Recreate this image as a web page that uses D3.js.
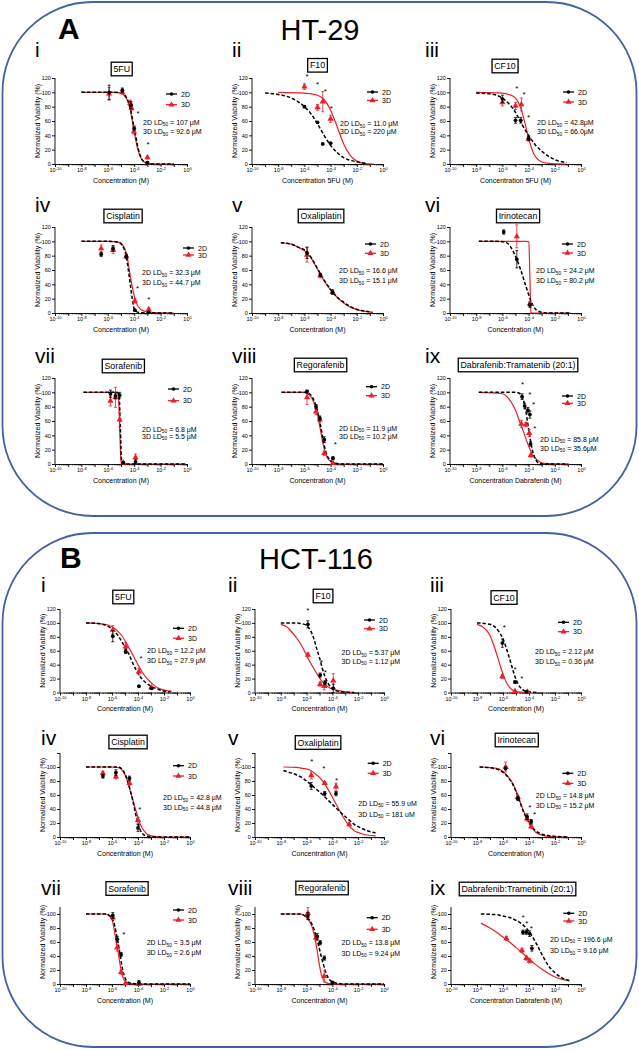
<!DOCTYPE html>
<html><head><meta charset="utf-8">
<script src="https://cdn.jsdelivr.net/npm/d3@7"></script>
<style>
body{margin:0;background:#fff}
svg{display:block}
text{font-family:"Liberation Sans",Arial,sans-serif}
</style>
</head><body>
<svg id="c" width="639" height="1050"></svg>
<script>
// ---------------- DATA ----------------
const sectionLetters = ["A","B"];
const cellLines = ["HT-29","HCT-116"];
const panelNumerals = ["i","ii","iii","iv","v","vi","vii","viii","ix"];
const drugsA = ["5FU","F10","CF10","Cisplatin","Oxaliplatin","Irinotecan","Sorafenib","Regorafenib","Dabrafenib:Tramatenib (20:1)"];
const drugsB = ["5FU","F10","CF10","Cisplatin","Oxaliplatin","Irinotecan","Sorafenib","Regorafenib","Dabrafenib:Trametinib (20:1)"];
const xTitlesA = ["Concentration (M)","Concentration 5FU (M)","Concentration 5FU (M)","Concentration (M)","Concentration (M)","Concentration (M)","Concentration (M)","Concentration (M)","Concentration Dabrafenib (M)"];
const xTitlesB = ["Concentration (M)","Concentration (M)","Concentration (M)","Concentration (M)","Concentration (M)","Concentration (M)","Concentration (M)","Concentration (M)","Concentration Dabrafenib (M)"];
const ld2DA = ["107 μM","11.0 μM","42.8μM","32.3 μM","16.6 μM","24.2 μM","6.8 μM","11.9 μM","85.8 μM"];
const ld3DA = ["92.6 μM","220 μM","66.0μM","44.7 μM","15.1 μM","80.2 μM","5.5 μM","10.2 μM","35.6μM"];
const ld2DB = ["12.2 μM","5.37 μM","2.12 μM","42.8 μM","55.9 uM","14.8 μM","3.5 μM","13.8 μM","196.6 μM"];
const ld3DB = ["27.9 μM","1.12 μM","0.36 μM","44.8 μM","181 uM","15.2 μM","2.6 μM","9.24 μM","9.16 μM"];
const seriesNames = ["2D","3D"];
const xTickExp = [-10,-9,-8,-7,-6,-5,-4,-3,-2,-1,0];
const yTickVals = [0,20,40,60,80,100,120];

// fitted curves: [log10 concentration, viability %]
const curve2DA = [
 [[-8,100],[-5.5,100],[-5,99],[-4.6,93],[-4.3,78],[-4.0,50],[-3.7,22],[-3.4,6],[-3,1],[-2.5,0],[-1,0]],
 [[-9,99],[-8,97],[-7,92],[-6,80],[-5.5,70],[-5,56],[-4.5,40],[-4,26],[-3.5,16],[-3,9],[-2,3],[-1.25,1]],
 [[-8,99],[-7,98],[-6,92],[-5.5,84],[-5,72],[-4.5,55],[-4,40],[-3.5,27],[-3,18],[-2.5,11],[-2,6],[-1.1,2]],
 [[-8,100],[-6,100],[-5.2,99],[-4.9,94],[-4.6,79],[-4.45,61],[-4.3,41],[-4.15,20],[-4.05,9],[-3.9,3],[-3.6,0.5],[-1,0]],
 [[-7.8,98],[-7,96],[-6.5,92],[-6,88],[-5.5,78],[-5,62],[-4.5,46],[-4,33],[-3.5,22],[-3,15],[-2.5,9],[-2,5],[-1.5,3],[-0.8,1]],
 [[-7.8,100],[-6.5,100],[-5.8,99],[-5.4,93],[-5.0,79],[-4.6,60],[-4.2,37],[-3.8,16],[-3.45,5],[-3,1],[-2.5,0],[-0.8,0]],
 [[-7.85,100],[-5.3,100],[-5.15,97],[-5.05,50],[-4.95,3],[-4.85,0],[-0.1,0]],
 [[-7.75,100],[-6,100],[-5.55,97],[-5.25,88],[-4.95,70],[-4.73,50],[-4.53,30],[-4.33,15],[-4.0,5],[-3.6,1],[-3,0],[0,0]],
 [[-7.8,100],[-5,100],[-4.75,99],[-4.5,94],[-4.25,78],[-4.05,55],[-3.85,32],[-3.65,15],[-3.45,6],[-3.2,1],[-2.5,0],[-1,0]]
];
const curve3DA = [
 [[-8,100],[-5.5,100],[-5,99],[-4.6,92],[-4.3,76],[-4.05,50],[-3.75,22],[-3.45,7],[-3.1,1.5],[-2.5,0],[-1,0]],
 [[-8,100],[-6,99],[-5,96],[-4.5,90],[-4,75],[-3.5,52],[-3,28],[-2.5,12],[-2,4],[-1.5,1],[-0.7,0]],
 [[-8,100],[-6,99],[-5.5,97],[-5,92],[-4.6,78],[-4.25,55],[-4,36],[-3.6,14],[-3.2,5],[-2.5,1],[-1.1,0]],
 [[-8,100],[-6,100],[-5.2,99],[-4.8,93],[-4.55,80],[-4.3,52],[-4.0,24],[-3.7,9],[-3.3,3],[-2.5,0.5],[-1,0]],
 [[-7.8,98],[-7,96],[-6.5,92],[-6,87],[-5.5,77],[-5,61],[-4.5,45],[-4,32],[-3.5,22],[-3,14],[-2.5,8],[-2,5],[-1.5,2.5],[-0.8,1]],
 [[-7.8,100],[-4.2,100],[-3.98,99],[-3.9,50],[-3.82,1],[-3.7,0],[-0.8,0]],
 [[-7.85,100],[-5.35,100],[-5.2,96],[-5.1,50],[-5.0,4],[-4.9,0],[-0.1,0]],
 [[-7.75,100],[-6,100],[-5.6,96],[-5.3,87],[-5.0,70],[-4.8,50],[-4.6,30],[-4.4,15],[-4.1,5],[-3.7,1],[-3,0],[0,0]],
 [[-7.8,100],[-6.5,99],[-6,98],[-5.5,91],[-5,75],[-4.7,60],[-4.45,48],[-4.1,30],[-3.7,13],[-3.3,5],[-2.8,1],[-0.9,0]]
];
const curve2DB = [
 [[-8,100],[-7,99],[-6.3,95],[-5.8,88],[-5.3,75],[-5,65],[-4.7,55],[-4.4,42],[-4.1,31],[-3.8,22],[-3.4,14],[-3,9],[-2.5,5],[-2,2],[-1.5,1]],
 [[-8,100],[-7,100],[-6.4,99],[-6,96],[-5.7,89],[-5.45,78],[-5.2,62],[-5,50],[-4.8,36],[-4.6,24],[-4.3,12],[-4,5],[-3.6,2],[-3,0.5],[-2.3,0]],
 [[-8,100],[-7,98],[-6.6,94],[-6.3,87],[-6,77],[-5.75,64],[-5.5,49],[-5.25,33],[-5,19],[-4.7,8],[-4.4,3],[-4,1],[-3.3,0]],
 [[-8,100],[-6,100],[-5.5,100],[-5.2,96],[-5,90],[-4.8,80],[-4.6,67],[-4.4,52],[-4.2,34],[-4,20],[-3.8,9],[-3.6,4],[-3.3,1],[-2.5,0],[0,0]],
 [[-7.8,95],[-7.3,92],[-6.8,89],[-6.3,84],[-5.8,77],[-5.3,69],[-4.8,61],[-4.3,52],[-3.8,43],[-3.3,34],[-2.8,26],[-2.3,18],[-1.8,13],[-1.3,9],[-0.65,6]],
 [[-7.8,100],[-7,99],[-6.5,97],[-6.2,95],[-5.9,91],[-5.6,85],[-5.3,77],[-5,65],[-4.7,50],[-4.4,35],[-4.1,24],[-3.8,15],[-3.5,9],[-3,4],[-2.5,2],[-1,0]],
 [[-8,100],[-7,100],[-6.5,100],[-6.2,98],[-6,94],[-5.8,84],[-5.6,65],[-5.45,50],[-5.3,33],[-5.15,18],[-5,9],[-4.8,3],[-4.5,1],[-4,0],[0,0]],
 [[-8,100],[-7,100],[-6.5,100],[-6.2,98],[-5.9,94],[-5.6,86],[-5.35,74],[-5.1,57],[-4.9,42],[-4.7,28],[-4.5,16],[-4.3,8],[-4,3],[-3.6,1],[-3,0],[0,0]],
 [[-7.7,100],[-7,99.5],[-6.5,99],[-6,97],[-5.5,95],[-5,91],[-4.5,85],[-4,75],[-3.5,60],[-3,42],[-2.5,26],[-2,16],[-1.5,9],[-0.9,5]]
];
const curve3DB = [
 [[-8,100],[-7,99],[-6.3,97],[-5.8,92],[-5.3,83],[-4.8,68],[-4.4,54],[-4,40],[-3.6,27],[-3.2,18],[-2.8,11],[-2.4,6],[-1.9,3],[-1.4,2]],
 [[-8,98],[-7.5,94],[-7.2,88],[-6.8,79],[-6.4,68],[-6.1,57],[-5.8,46],[-5.4,33],[-5.1,24],[-4.8,16],[-4.4,9],[-4,5],[-3.6,3],[-3,1],[-2.3,0]],
 [[-8,98],[-7.6,95],[-7.3,90],[-7,82],[-6.75,70],[-6.5,56],[-6.3,44],[-6.1,32],[-5.9,21],[-5.6,10],[-5.3,4],[-5,1.5],[-4.6,0.5],[-4,0]],
 [[-8,100],[-6,100],[-5.5,99],[-5.2,95],[-5,89],[-4.8,79],[-4.6,66],[-4.4,53],[-4.2,40],[-4,28],[-3.8,17],[-3.5,8],[-3.2,3],[-2.8,1],[-2,0],[0,0]],
 [[-7.8,100],[-6.8,99.5],[-6.3,98],[-5.8,96],[-5.3,90],[-4.8,81],[-4.3,67],[-3.8,50],[-3.3,33],[-2.8,18],[-2.3,9],[-1.8,5],[-1.2,2.5],[-0.65,1.5]],
 [[-7.8,100],[-7,99],[-6.5,98],[-6.2,96],[-5.9,92],[-5.6,86],[-5.3,78],[-5,66],[-4.7,51],[-4.4,36],[-4.1,24],[-3.8,14],[-3.5,7],[-3,2.5],[-2.5,1],[-1,0]],
 [[-8,100],[-7,100],[-6.5,100],[-6.2,97],[-6,92],[-5.85,80],[-5.7,63],[-5.55,48],[-5.4,30],[-5.25,16],[-5.1,7],[-4.9,2],[-4.6,0.5],[-4,0],[0,0]],
 [[-8,100],[-7,100],[-6.5,100],[-6.2,98],[-5.9,93],[-5.6,83],[-5.4,70],[-5.2,50],[-5.05,32],[-4.9,17],[-4.75,8],[-4.5,2],[-4.2,0.5],[-3.5,0],[0,0]],
 [[-7.7,87],[-7,80],[-6.5,74],[-6,67],[-5.5,60],[-5,52],[-4.5,44],[-4,36],[-3.5,28],[-3,21],[-2.5,15],[-2,10],[-1.5,7],[-0.9,4.5]]
];
// measured points: [log10 concentration, mean %, error %]
const pts2DA = [
 [[-5.9,100,10],[-4.9,103,3],[-4.25,82,5],[-4,50,3],[-3,2,1]],
 [[-6,80,1],[-5,58,1],[-4.6,28,1],[-4,29,1]],
 [[-6,91,5],[-5,61,4],[-4.6,61,4],[-4,36,3]],
 [[-6.5,82,3],[-5.6,90,4],[-4.6,79,3],[-3.95,4,1],[-2.9,1,1]],
 [[-5.8,84,8],[-4.78,53,2],[-3.85,29,3]],
 [[-5.9,113,3],[-4.9,75,12],[-3.9,11,3]],
 [[-5.8,98,5],[-5.42,95,4],[-5.1,96,4],[-4.83,2,1],[-3.9,3,3]],
 [[-5.8,101,2],[-5.11,80,3],[-4.83,64,3],[-4.48,34,4],[-3.82,8,2]],
 [[-4.5,94,4],[-4.3,81,4],[-4.05,75,4],[-3.9,69,5],[-3.85,28,3]]
];
const pts3DA = [
 [[-5.9,98,9],[-4.9,100,2],[-4.3,85,4],[-4.2,78,3],[-4.02,45,3],[-3,9,2]],
 [[-6,108,4],[-5,79,4],[-4.6,87,14],[-4,63,5]],
 [[-6,86,5],[-5,81,5],[-4.55,83,9],[-4,35,3]],
 [[-6.5,90,5],[-5.6,88,5],[-4.6,79,3],[-3.95,17,3],[-2.9,5,2]],
 [[-5.8,81,10],[-4.78,52,3],[-3.85,29,2]],
 [[-4.9,107,16],[-3.9,13,3]],
 [[-5.8,88,7],[-5.42,93,14],[-5.1,62,10],[-4.83,2,1],[-3.9,9,5]],
 [[-5.8,93,10],[-5.11,73,4],[-4.83,62,4],[-4.48,15,3],[-3.82,1,1]],
 [[-4.55,56,5],[-4.2,55,3],[-3.95,43,5],[-3.83,12,2]]
];
const pts2DB = [
 [[-5.94,81,8],[-4.95,59,3],[-3.93,9,1],[-2.97,6,1]],
 [[-5.9,98,5],[-4.95,25,3],[-4.57,14,3],[-3.93,6,6]],
 [[-6.05,71,6],[-5.08,15,2],[-4.2,1,1]],
 [[-6.7,87,3],[-5.7,92,4],[-4.66,84,3],[-4.0,13,5]],
 [[-5.64,73,5],[-4.6,62,3],[-3.72,62,3]],
 [[-5.8,98,2],[-4.86,55,3],[-4.15,29,4],[-3.83,22,3]],
 [[-5.94,98,4],[-5.59,64,4],[-5.3,42,3],[-3.93,2,3]],
 [[-5.9,97,5],[-5.18,68,4],[-4.95,59,3],[-4.63,37,3],[-4.0,2,2]],
 [[-4.46,74,3],[-4.2,74,3],[-3.95,72,4],[-3.78,51,4]]
];
const pts3DB = [
 [[-5.94,90,6],[-4.95,66,6],[-3.93,30,5],[-2.97,7,1]],
 [[-5.9,54,3],[-4.95,12,3],[-4.63,9,5],[-3.93,17,10]],
 [[-6.05,23,3],[-5.08,2,1],[-4.13,1,1]],
 [[-6.7,91,3],[-5.7,86,3],[-4.66,77,3],[-4.0,24,4]],
 [[-5.64,88,5],[-4.6,77,2],[-3.72,72,5],[-2.7,18,2]],
 [[-5.8,100,7],[-4.86,57,3],[-4.15,26,3],[-3.83,15,3]],
 [[-5.94,95,3],[-5.6,52,5],[-5.3,17,3],[-4.95,1,1],[-3.93,0,2]],
 [[-5.9,101,8],[-5.27,66,3],[-4.63,11,8]],
 [[-5.74,65,3],[-4.54,48,3],[-4.2,37,3],[-3.95,33,3]]
];
// significance asterisks: [log10 concentration, %]
const starsA = [
 [[-3.7,72],[-2.95,28]],
 [[-5.8,123],[-5,112],[-4.4,102],[-3.95,79]],
 [[-4.9,107],[-4.35,99],[-4,66]],
 [[-3.75,35],[-2.9,20]],
 [], [],
 [],
 [[-3.64,28]],
 [[-4.46,112],[-3.9,99],[-3.62,84],[-3.52,51]]
];
const starsB = [
 [[-3.77,51]],
 [[-5.9,119],[-4.86,44],[-4.54,30]],
 [[-5.9,95],[-5.08,34],[-4.56,21]],
 [[-3.87,41]],
 [[-5.6,110],[-4.67,100],[-3.67,82]],
 [[-3.93,44],[-3.58,33]],
 [[-5.1,72]],
 [],
 [[-4.46,96],[-4.16,88],[-3.83,81]]
];

// ---------------- LAYOUT ----------------
const sections = [
 {top:2, cols:[[55,187],[252,383],[450,581]], rows:[[164,78,120,true],[313,227,120,true],[464,378,120,true]],
  numX:[35,232,425], numY:[57,212,363], letterX:58, letterY:39, titleX:320, titleY:40,
  titleDx:[66.7,65.5,55,68,69,68,68.3,68.5,68], titleDy:[-9,-12.7,-12,-11,-11,-11,-12,-13,-13],
  leg:[[111,16,10.7],[115,14,8.4],[113,14,10],[128,21,7],[113,17,9.3],[112,17,9],[113,11,11.7],[114,8.7,9],[112,18,7.3]],
  ld:[[88,46.5,9.7],[88,48,8.3],[87,47,9.3],[87,48,10],[87,46.3,10],[86,46.3,10],[87,53.5,7.3],[87,52.5,8.3],[90,63.5,9.4]]},
 {top:533, cols:[[60,190],[255,384],[451,581]], rows:[[692.5,609,120,true],[837,753,120,false],[984,900,110,false]],
  numX:[41,228,430], numY:[592,745,895], letterX:60, letterY:568, titleX:316, titleY:569,
  titleDx:[63.3,68,53,68,63,65.7,67,67,66.5], titleDy:[-12,-13,-11.5,-11,-10.5,-13,-11.5,-12,-11],
  leg:[[113,19.3,10],[109,11,8.7],[107,13.3,9.4],[113,12.7,10.3],[112.7,10.3,10],[111.3,20.3,10],[113,10,10],[111.7,17.7,11.6],[112.3,13.3,7.7]],
  ld:[[87,44.3,9.7],[86.5,46,8.7],[84,45.3,9.7],[103,47.3,9.4],[103.3,52.7,11],[84.8,45.3,9.4],[86.7,45.3,9.7],[86.5,45.3,10.4],[99,41.7,11.6]]}
];
const RED = "#e8202a", BLUE = "#44629e";

const svg = d3.select("#c");
const sectionData = [
 {drugs:drugsA, xt:xTitlesA, l2:ld2DA, l3:ld3DA, c2:curve2DA, c3:curve3DA, p2:pts2DA, p3:pts3DA, st:starsA},
 {drugs:drugsB, xt:xTitlesB, l2:ld2DB, l3:ld3DB, c2:curve2DB, c3:curve3DB, p2:pts2DB, p3:pts3DB, st:starsB}
];

sections.forEach((L, s) => {
  const D = sectionData[s];
  svg.append("rect").attr("x",2.5).attr("y",L.top).attr("width",634).attr("height",514)
    .attr("rx",90).attr("ry",90).attr("fill","none").attr("stroke",BLUE).attr("stroke-width",1.8);
  svg.append("text").attr("x",L.letterX).attr("y",L.letterY).attr("font-size",30).attr("font-weight","bold").text(sectionLetters[s]);
  svg.append("text").attr("x",L.titleX).attr("y",L.titleY).attr("font-size",29).attr("text-anchor","middle").text(cellLines[s]);

  for (let p = 0; p < 9; p++) {
    const col = p % 3, row = Math.floor(p / 3);
    const [xL, xR] = L.cols[col];
    const [y0, yT, yMax, show120] = L.rows[row];
    const x = d3.scaleLinear().domain([-10, 0]).range([xL, xR]);
    const y = d3.scaleLinear().domain([0, 120]).range([y0, yT]);
    const g = svg.append("g");

    g.append("text").attr("x", L.numX[col]).attr("y", L.numY[row]).attr("font-size", 21).text(panelNumerals[p]);

    const tt = g.append("text").attr("x", xL + L.titleDx[p]).attr("y", yT + L.titleDy[p] + 3.1)
      .attr("font-size", 8.8).attr("text-anchor", "middle").text(D.drugs[p]);
    const bb = tt.node().getBBox();
    g.insert("rect", "text").attr("x", bb.x - 2.2).attr("y", yT + L.titleDy[p] - 6.8)
      .attr("width", bb.width + 4.4).attr("height", 13.6).attr("fill", "#fff").attr("stroke", "#000").attr("stroke-width", 1.3);

    const minor = [];
    for (let d = -10; d < 0; d++) for (let k = 2; k <= 9; k++) minor.push(d + Math.log10(k));
    g.append("g").attr("transform", `translate(0,${y0})`)
      .call(d3.axisBottom(x).tickValues(minor).tickSize(1.5).tickSizeOuter(0).tickFormat(""))
      .call(a => a.select(".domain").remove())
      .call(a => a.selectAll("line").attr("stroke-width", 0.6));
    const xa = g.append("g").attr("transform", `translate(0,${y0})`)
      .call(d3.axisBottom(x).tickValues(xTickExp).tickSize(3).tickSizeOuter(0).tickPadding(1.5)
        .tickFormat(d => d % 2 === 0 ? "10" : ""));
    xa.attr("font-size", 5.5).attr("font-family", null);
    xa.selectAll(".tick text").each(function(d) {
      if (d % 2 === 0) d3.select(this).append("tspan").attr("dy", -2.3).attr("font-size", 4).text(d);
    });
    xa.selectAll("line,path").attr("stroke-width", 0.9);

    const yv = yTickVals.filter(v => v <= yMax);
    const ya = g.append("g").attr("transform", `translate(${xL},0)`)
      .call(d3.axisLeft(y).tickValues(yv).tickSize(3).tickSizeOuter(0).tickPadding(1.2)
        .tickFormat(v => (v === 120 && !show120) ? "" : v));
    ya.select(".domain").attr("d", `M0,${y(0)}V${y(yMax)}`);
    ya.attr("font-size", 5.5).attr("font-family", null);
    ya.selectAll("line,path").attr("stroke-width", 0.9);

    g.append("text").attr("transform", `translate(${xL - 15},${(y0 + yT) / 2}) rotate(-90)`)
      .attr("font-size", 7).attr("text-anchor", "middle").text("Normalized Viability (%)");
    g.append("text").attr("x", (xL + xR) / 2).attr("y", y0 + 18.5)
      .attr("font-size", 7).attr("text-anchor", "middle").text(D.xt[p]);

    const line = d3.line().x(d => x(d[0])).y(d => y(d[1])).curve(d3.curveMonotoneX);
    g.append("path").attr("d", line(D.c3[p])).attr("fill", "none").attr("stroke", RED).attr("stroke-width", 1.2);
    g.append("path").attr("d", line(D.c2[p])).attr("fill", "none").attr("stroke", "#000")
      .attr("stroke-width", 1.5).attr("stroke-dasharray", "3.5,2");

    const drawPts = (pts, color, shape) => {
      pts.forEach(([cx, m, e]) => {
        const px = x(cx);
        g.append("path").attr("d", `M${px},${y(m - e)}V${y(m + e)}M${px - 1.5},${y(m - e)}h3M${px - 1.5},${y(m + e)}h3`)
          .attr("stroke", color).attr("stroke-width", 0.8).attr("fill", "none");
        if (shape === "circle") g.append("circle").attr("cx", px).attr("cy", y(m)).attr("r", 1.9).attr("fill", color);
        else g.append("path").attr("d", d3.symbol(d3.symbolTriangle, 17)()).attr("transform", `translate(${px},${y(m)})`).attr("fill", color);
      });
    };
    drawPts(D.p3[p], RED, "tri");
    drawPts(D.p2[p], "#000", "circle");

    D.st[p].forEach(([sx, sy]) => {
      g.append("text").attr("x", x(sx)).attr("y", y(sy) + 3.5).attr("font-size", 8).attr("text-anchor", "middle").text("*");
    });

    const [lx, ly, lsp] = L.leg[p];
    seriesNames.forEach((nm, i) => {
      const yy = yT + ly + i * lsp, x1 = xL + lx;
      const col_ = i === 0 ? "#000" : RED;
      g.append("line").attr("x1", x1).attr("x2", x1 + 11).attr("y1", yy).attr("y2", yy).attr("stroke", col_).attr("stroke-width", 1.3);
      if (i === 0) g.append("circle").attr("cx", x1 + 5.5).attr("cy", yy).attr("r", 1.8).attr("fill", col_);
      else g.append("path").attr("d", d3.symbol(d3.symbolTriangle, 16)()).attr("transform", `translate(${x1 + 5.5},${yy})`).attr("fill", col_);
      g.append("text").attr("x", x1 + 15).attr("y", yy + 2.5).attr("font-size", 7).text(nm);
    });

    const [tx, ty, tsp] = L.ld[p];
    [D.l2[p], D.l3[p]].forEach((val, i) => {
      const t = g.append("text").attr("x", xL + tx).attr("y", yT + ty + i * tsp).attr("font-size", 7);
      t.append("tspan").text(seriesNames[i] + " LD");
      t.append("tspan").attr("font-size", 4.8).attr("dy", 1.5).text("50");
      t.append("tspan").attr("dy", -1.5).text(" = " + val);
    });
  }
});
</script>
</body></html>
